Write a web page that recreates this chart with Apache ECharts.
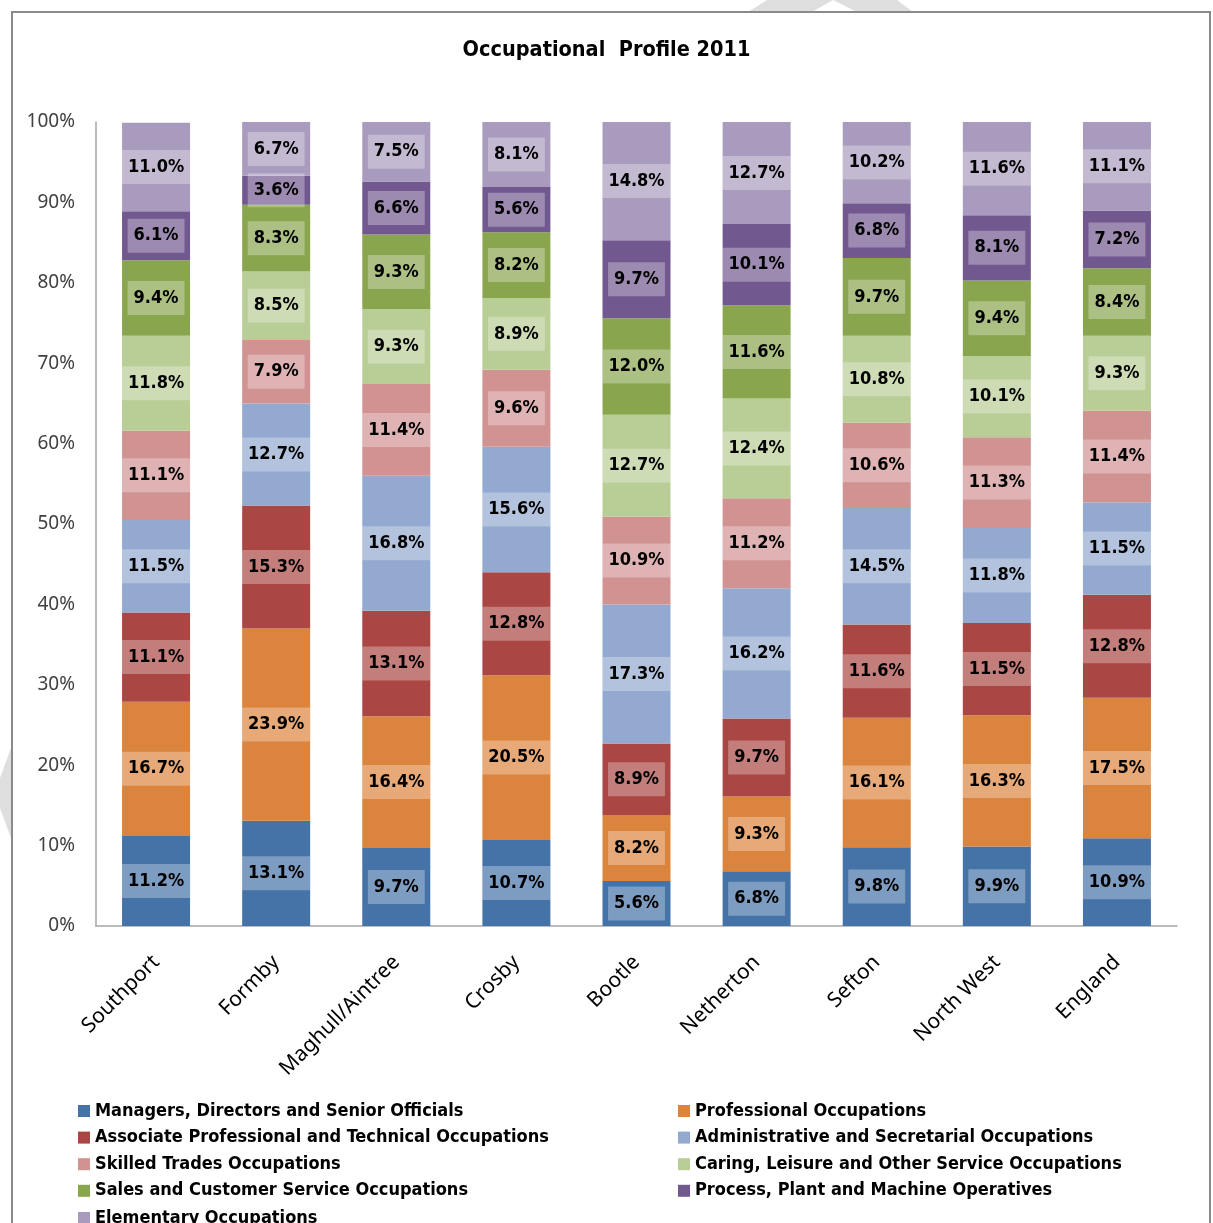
<!DOCTYPE html>
<html>
<head>
<meta charset="utf-8">
<title>Occupational Profile 2011</title>
<script src="https://cdn.jsdelivr.net/npm/echarts@6/dist/echarts.min.js"></script>
<style>
  html, body { margin: 0; padding: 0; background: #ffffff; }
  #chart { width: 1213px; height: 1223px; }
</style>
</head>
<body>
<div id="chart"></div>
<script>
// Areas along the x axis
const areas = ['Southport', 'Formby', 'Maghull/Aintree', 'Crosby', 'Bootle', 'Netherton', 'Sefton', 'North West', 'England'];

// Share of residents in each occupation group (%), one value per area
const managers     = [11.2, 13.1, 9.7, 10.7, 5.6, 6.8, 9.8, 9.9, 10.9];
const professional = [16.7, 23.9, 16.4, 20.5, 8.2, 9.3, 16.1, 16.3, 17.5];
const associate    = [11.1, 15.3, 13.1, 12.8, 8.9, 9.7, 11.6, 11.5, 12.8];
const admin        = [11.5, 12.7, 16.8, 15.6, 17.3, 16.2, 14.5, 11.8, 11.5];
const skilled      = [11.1, 7.9, 11.4, 9.6, 10.9, 11.2, 10.6, 11.3, 11.4];
const caring       = [11.8, 8.5, 9.3, 8.9, 12.7, 12.4, 10.8, 10.1, 9.3];
const sales        = [9.4, 8.3, 9.3, 8.2, 12.0, 11.6, 9.7, 9.4, 8.4];
const process      = [6.1, 3.6, 6.6, 5.6, 9.7, 10.1, 6.8, 8.1, 7.2];
const elementary   = [11.0, 6.7, 7.5, 8.1, 14.8, 12.7, 10.2, 11.6, 11.1];

// Value axis ticks
const yTicks = [0, 10, 20, 30, 40, 50, 60, 70, 80, 90, 100];

const groups = [
  { name: 'Managers, Directors and Senior Officials', data: managers, color: '#4572A7' },
  { name: 'Professional Occupations', data: professional, color: '#DB843D' },
  { name: 'Associate Professional and Technical Occupations', data: associate, color: '#AA4643' },
  { name: 'Administrative and Secretarial Occupations', data: admin, color: '#93A9CF' },
  { name: 'Skilled Trades Occupations', data: skilled, color: '#D19392' },
  { name: 'Caring, Leisure and Other Service Occupations', data: caring, color: '#B9CD96' },
  { name: 'Sales and Customer Service Occupations', data: sales, color: '#89A54E' },
  { name: 'Process, Plant and Machine Operatives', data: process, color: '#71588F' },
  { name: 'Elementary Occupations', data: elementary, color: '#A99BBD' }
];

const labelFont = "'DejaVu Sans Condensed', 'DejaVu Sans', sans-serif";
const axisFont = "'Noto Sans', 'DejaVu Sans', sans-serif";

const series = groups.map(g => ({
  name: g.name,
  type: 'bar',
  stack: 'total',
  barWidth: 68,
  data: g.data,
  itemStyle: { color: g.color },
  label: {
    show: true,
    position: 'inside',
    formatter: p => p.value.toFixed(1) + '%',
    color: '#000000',
    fontFamily: labelFont,
    fontWeight: 'bold',
    fontSize: 18,
    lineHeight: 18,
    backgroundColor: 'rgba(255,255,255,0.3)',
    padding: [8, 6, 8, 6]
  },
  emphasis: { disabled: true }
}));

const legendText = {
  fontFamily: labelFont,
  fontWeight: 'bold',
  fontSize: 18,
  lineHeight: 20,
  color: '#000000'
};

// Two-column legend: even groups on the left, odd groups on the right,
// the last (ninth) entry on its own row below the left column
function legendColumn(names, left, top) {
  return {
    data: names,
    orient: 'vertical',
    left: left,
    top: top,
    padding: 0,
    itemWidth: 12,
    itemHeight: 12,
    itemGap: 6.6,
    icon: 'rect',
    selectedMode: false,
    textStyle: legendText
  };
}
const names = groups.map(g => g.name);
const leftNames = names.filter((n, i) => i % 2 === 0 && i < 8);
const rightNames = names.filter((n, i) => i % 2 === 1);
const lastNames = [names[8]];

const chart = echarts.init(document.getElementById('chart'), null, { renderer: 'canvas' });

chart.setOption({
  animation: false,
  backgroundColor: '#ffffff',
  title: {
    text: 'Occupational  Profile 2011',
    left: 'center',
    top: 34,
    textStyle: {
      fontFamily: labelFont,
      fontWeight: 'bold',
      fontSize: 21.5,
      color: '#000000'
    }
  },
  grid: { left: 96, right: 36, top: 122, bottom: 297 },
  xAxis: {
    type: 'category',
    data: areas,
    axisLine: { show: true, lineStyle: { color: '#a6a6a6', width: 1.5 } },
    axisTick: { show: false },
    axisLabel: {
      rotate: 45,
      margin: 33,
      fontFamily: axisFont,
      fontSize: 21,
      color: '#000000',
      interval: 0
    }
  },
  yAxis: {
    type: 'value',
    min: yTicks[0],
    max: yTicks[yTicks.length - 1],
    interval: yTicks[1] - yTicks[0],
    axisLine: { show: true, lineStyle: { color: '#a6a6a6', width: 1.5 } },
    axisTick: { show: false },
    splitLine: { show: false },
    axisLabel: {
      formatter: '{value}%',
      margin: 21,
      fontFamily: axisFont,
      fontSize: 19,
      color: '#404040'
    }
  },
  legend: [
    legendColumn(leftNames, 78, 1101),
    legendColumn(rightNames, 678, 1101),
    legendColumn(lastNames, 78, 1208)
  ],
  graphic: [
    {
      type: 'polygon',
      silent: true,
      z: 0,
      shape: { points: [[748, 12], [767, 0], [833, 0], [812, 12]] },
      style: { fill: '#dedede' }
    },
    {
      type: 'polygon',
      silent: true,
      z: 0,
      shape: { points: [[833, 0], [897, 0], [913, 12], [857, 12]] },
      style: { fill: '#dedede' }
    },
    {
      type: 'polygon',
      silent: true,
      z: 0,
      shape: { points: [[11, 748], [0, 778], [0, 808], [11, 838]] },
      style: { fill: '#dedede' }
    },
    {
      type: 'rect',
      silent: true,
      z: 1,
      shape: { x: 12, y: 12, width: 1198, height: 1260 },
      style: { fill: null, stroke: '#8a8a8a', lineWidth: 2 }
    }
  ],
  series: series
});
</script>
</body>
</html>
